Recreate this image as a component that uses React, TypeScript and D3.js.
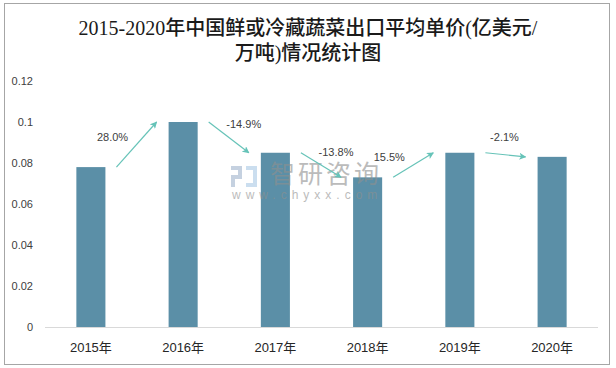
import React from "react";
import * as d3 from "d3";

const years = ["2015年", "2016年", "2017年", "2018年", "2019年", "2020年"];
const prices = [0.078, 0.1, 0.085, 0.073, 0.085, 0.083];
const growth = ["28.0%", "-14.9%", "-13.8%", "15.5%", "-2.1%"];
const yTicks = [0, 0.02, 0.04, 0.06, 0.08, 0.1, 0.12];
const titleLines = ["2015-2020年中国鲜或冷藏蔬菜出口平均单价(亿美元/", "万吨)情况统计图"];

const W = 616;
const H = 368;
const margin = { top: 81, right: 18, bottom: 41, left: 45 };

const barColor = "#5b8fa7";
const arrowColor = "#66c3b8";
const sans = "'Liberation Sans', 'Noto Sans CJK SC', sans-serif";

const App = () => {
  const x = d3
    .scaleBand<string>()
    .domain(years)
    .range([margin.left, W - margin.right])
    .paddingInner(0.685)
    .paddingOuter(0.34);

  const y = d3
    .scaleLinear()
    .domain([0, 0.12])
    .range([H - margin.bottom, margin.top]);

  const bw = x.bandwidth();

  // arrows between consecutive bars
  const arrows = growth.map((g, i) => {
    const x1 = (x(years[i]) as number) + bw + 11;
    const y1 = y(prices[i]);
    const x2 = (x(years[i + 1]) as number) - 12;
    const y2 = y(prices[i + 1]);
    const mx = (x1 + x2) / 2;
    const my = (y1 + y2) / 2;
    const dy = y2 - y1;
    let lx = mx, ly = my;
    if (dy < -10) { lx = mx - 24; ly = my - 8; }
    else if (dy > 10) { lx = mx + 15; ly = my - 13; }
    else { lx = mx - 1; ly = my - 18; }
    return { g, x1, y1, x2, y2, lx, ly };
  });

  return (
    <svg
      width={W}
      height={H}
      style={{ position: "absolute", left: 0, top: 0, background: "#fff" }}
    >
      <defs>
        <marker id="ah" viewBox="0 0 10 10" refX="9" refY="5" markerWidth="7" markerHeight="7" orient="auto" markerUnits="userSpaceOnUse">
          <path d="M0,0 L10,5 L0,10 L2.5,5 z" fill={arrowColor} />
        </marker>
      </defs>
      <rect x={0} y={0} width={W} height={H} fill="#fff" />
      <rect x={4.5} y={3.5} width={605} height={361} fill="none" stroke="#a6a6a6" strokeWidth={1} />

      {titleLines.map((t, i) => (
        <text
          key={i}
          x={308}
          y={35 + i * 25}
          textAnchor="middle"
          fontSize={20}
          fontWeight={500}
          fill="#1a1a1a"
          fontFamily="'Liberation Serif', 'Noto Sans CJK SC', serif"
        >
          {t}
        </text>
      ))}

      {/* y axis labels */}
      {yTicks.map((t) => (
        <text
          key={t}
          x={33}
          y={y(t) + 4}
          textAnchor="end"
          fontSize={11}
          fill="#404040"
          fontFamily={sans}
        >
          {d3.format("~g")(t)}
        </text>
      ))}

      {/* baseline */}
      <line
        x1={margin.left}
        x2={W - margin.right}
        y1={y(0) + 0.5}
        y2={y(0) + 0.5}
        stroke="#d9d9d9"
        strokeWidth={1}
      />

      {/* bars */}
      {years.map((yr, i) => (
        <rect
          key={yr}
          x={x(yr)}
          y={y(prices[i])}
          width={bw}
          height={y(0) - y(prices[i])}
          fill={barColor}
        />
      ))}

      {/* x labels */}
      {years.map((yr) => (
        <text
          key={yr}
          x={(x(yr) as number) + bw / 2}
          y={352}
          textAnchor="middle"
          fontSize={13}
          fill="#262626"
          fontFamily={sans}
        >
          {yr}
        </text>
      ))}

      {/* watermark */}
      <g opacity={0.6}>
        <rect x={231} y={166} width={11} height={4} fill="#9fb4cc" />
        <rect x={238} y={166} width={4} height={11} fill="#9fb4cc" />
        <rect x={231} y={175} width={11} height={4} fill="#9fb4cc" />
        <rect x={231} y={175} width={4} height={12} fill="#9fb4cc" />
        <rect x={246} y={166} width={11} height={4} fill="#a9c9e6" />
        <rect x={253} y={166} width={4} height={21} fill="#a9c9e6" />
        <rect x={246} y={183} width={11} height={4} fill="#a9c9e6" />
        <text x={270} y={183} fontSize={25} letterSpacing={3} fill="#8f8f8f" fontFamily={sans}>
          智研咨询
        </text>
        <text x={232} y={199} fontSize={12} letterSpacing={5} fill="#8f8f8f" fontFamily={sans}>
          www.chyxx.com
        </text>
      </g>

      {/* growth arrows */}
      {arrows.map((a, i) => (
        <g key={i}>
          <line
            x1={a.x1}
            y1={a.y1}
            x2={a.x2}
            y2={a.y2}
            stroke={arrowColor}
            strokeWidth={1.2}
            markerEnd="url(#ah)"
          />
          <text
            x={a.lx}
            y={a.ly + 4}
            textAnchor="middle"
            fontSize={11}
            fill="#404040"
            fontFamily={sans}
          >
            {a.g}
          </text>
        </g>
      ))}
    </svg>
  );
};

export default App;
